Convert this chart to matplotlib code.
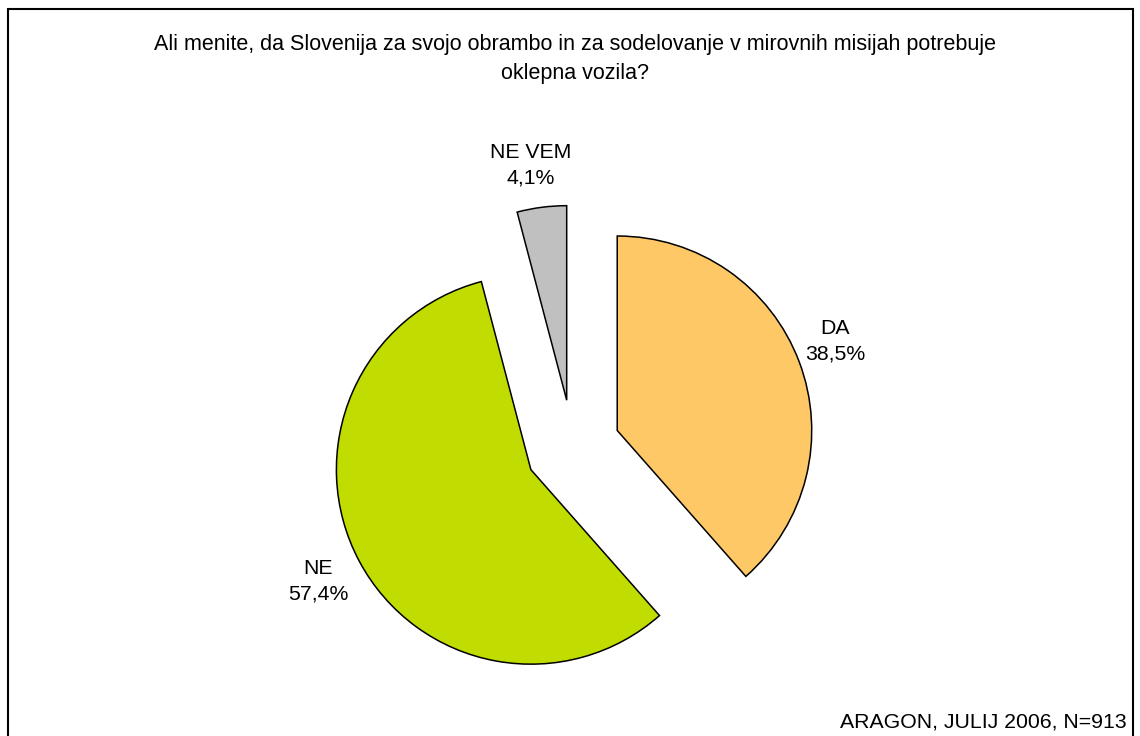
import matplotlib
matplotlib.use("Agg")
import matplotlib.pyplot as plt
from matplotlib.patches import Rectangle

# survey answers, in drawing order (clockwise from 12 o'clock)
labels = ["DA", "NE", "NE VEM"]
shares = [38.5, 57.4, 4.1]
colors = ["#FFC866", "#C0DC00", "#C0C0C0"]

title = "Ali menite, da Slovenija za svojo obrambo in za sodelovanje v mirovnih misijah potrebuje\noklepna vozila?"
source = "ARAGON, JULIJ 2006, N=913"

W, H = 1140, 736
plt.rcParams['font.family'] = ['Liberation Sans', 'DejaVu Sans']

fig = plt.figure(figsize=(W / 100, H / 100), dpi=100)
ax = fig.add_axes([0, 0, 1, 1])

# pie in pixel units (y measured from the bottom)
radius = 194.5
center = (572.8, H - 447.3)
# matplotlib's explode offset is in data units here, not scaled by radius
ax.pie(shares, colors=colors, startangle=90, counterclock=False,
       radius=radius, center=center, explode=[47.5] * 3,
       wedgeprops=dict(edgecolor='black', linewidth=1.1),
       frame=True)
ax.set_xlim(0, W)
ax.set_ylim(0, H)
ax.set_aspect('equal')
ax.axis('off')

# slice labels
label_pos = {"DA": (835, 341), "NE": (318, 581), "NE VEM": (531, 165)}
for lab, val in zip(labels, shares):
    x, y = label_pos[lab]
    txt = f"{lab}\n{val:.1f}%".replace(".", ",")
    ax.text(x, H - y, txt, ha='center', va='center', fontsize=15.3,
            linespacing=1.45)

ax.text(575, H - 59, title, ha='center', va='center', fontsize=15.5,
        linespacing=1.5)
ax.text(1127, H - 722, source, ha='right', va='center', fontsize=15.3)

# chart border
fig.patches.append(Rectangle((8 / W, -0.01), (1133 - 8) / W, (H - 9) / H + 0.01,
                             transform=fig.transFigure, fill=False,
                             edgecolor='black', linewidth=1.5))

fig.savefig("out.png", dpi=100)
